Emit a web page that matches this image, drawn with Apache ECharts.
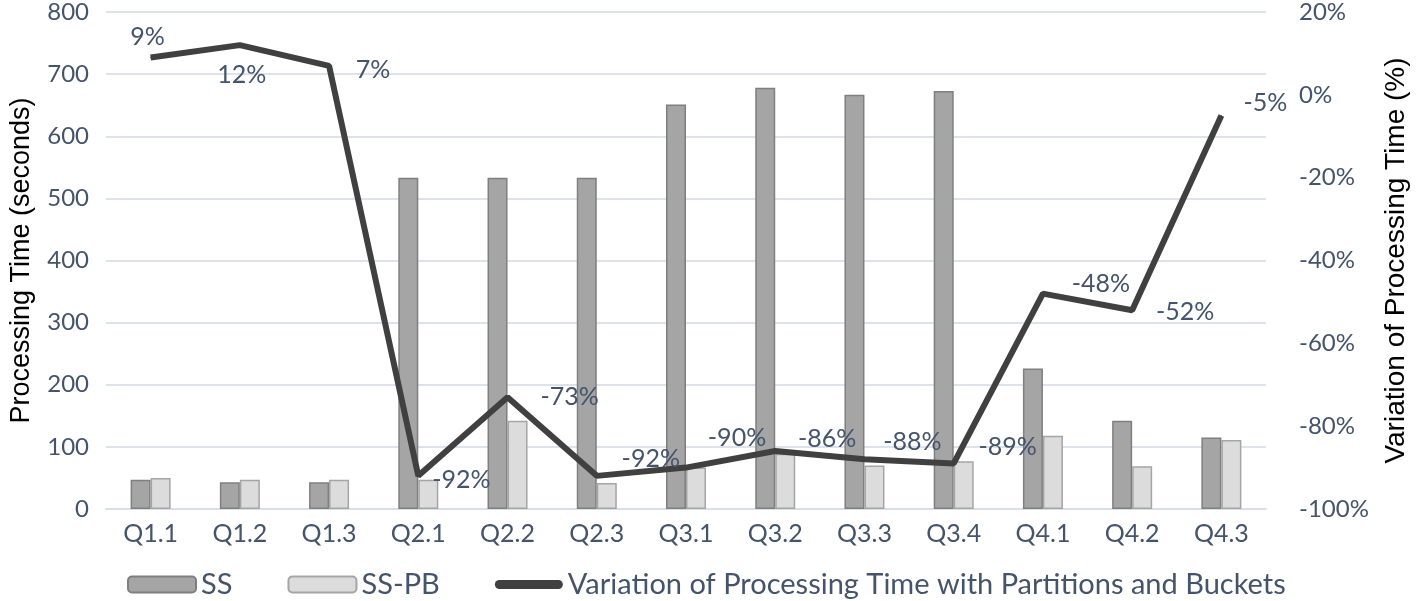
<!DOCTYPE html>
<html>
<head>
<meta charset="utf-8">
<script src="https://cdn.jsdelivr.net/npm/echarts@6/dist/echarts.min.js"></script>
<style>
html,body{margin:0;padding:0;background:#fff;}
#chart{width:1418px;height:601px;}
</style>
</head>
<body>
<div id="chart"></div>
<script>
const categories = ['Q1.1','Q1.2','Q1.3','Q2.1','Q2.2','Q2.3','Q3.1','Q3.2','Q3.3','Q3.4','Q4.1','Q4.2','Q4.3'];
const ssValues = [47, 43, 43, 533, 533, 533, 651, 678, 667, 673, 226, 142, 115];
const sspbValues = [50, 47, 47, 47, 142, 42, 67, 89, 70, 77, 118, 69, 111];
const variationValues = [9, 12, 7, -92, -73, -92, -90, -86, -88, -89, -48, -52, -5];
const leftTicks = [0, 800, 100];
const rightTicks = [-100, 20, 20];

// label offsets (pixels) for the variation labels
const labelOffsets = [[-3,-21],[2,30],[44,4],[43,4],[62,0],[54,-17],[51,-30],[52,-12],[48,-17],[54,-17],[58,-10],[53,2],[44,-13]];

const txt = '#44546a';
const font = 'Lato, "Open Sans", sans-serif';
const titleFont = '"Liberation Sans", Arial, sans-serif';
const lineName = 'Variation of Processing Time with Partitions and Buckets';
const chart = echarts.init(document.getElementById('chart'), null, {renderer:'canvas'});
chart.setOption({
  animation: false,
  backgroundColor: '#fff',
  grid: {left: 105, right: 151, top: 12, bottom: 92},
  legend: {
    left: 122, top: 565, itemWidth: 68, itemHeight: 16, itemGap: 55,
    textStyle: {fontFamily: font, fontSize: 29, color: txt},
    data: ['SS', 'SS-PB', {name: lineName, icon: 'path://M5,0 L71,0 A5,5 0 0 1 71,10 L5,10 A5,5 0 0 1 5,0 Z'}]
  },
  xAxis: {
    type: 'category', data: categories,
    axisLine: {show: true, lineStyle: {color: '#d9dfe8', width: 2}},
    axisTick: {show: false},
    axisLabel: {fontFamily: font, fontSize: 25, color: txt, margin: 12}
  },
  yAxis: [{
    type: 'value', min: leftTicks[0], max: leftTicks[1], interval: leftTicks[2],
    name: 'Processing Time (seconds)', nameLocation: 'middle', nameGap: 71,
    nameTextStyle: {fontFamily: titleFont, fontSize: 27, color: '#000'},
    axisLabel: {fontFamily: font, fontSize: 24, color: txt, margin: 17},
    splitLine: {lineStyle: {color: '#dde3ec', width: 2}},
    axisLine: {show: false}, axisTick: {show: false}
  }, {
    type: 'value', min: rightTicks[0], max: rightTicks[1], interval: rightTicks[2],
    name: 'Variation of Processing Time (%)', nameLocation: 'middle', nameGap: 116,
    nameRotate: 90,
    nameTextStyle: {fontFamily: titleFont, fontSize: 28, color: '#000'},
    axisLabel: {fontFamily: font, fontSize: 24, color: txt, margin: 33, formatter: '{value}%'},
    splitLine: {show: false}, axisLine: {show: false}, axisTick: {show: false}
  }],
  series: [{
    name: 'SS', type: 'bar', data: ssValues, barWidth: 20, barGap: '0%',
    itemStyle: {color: '#a5a5a5', borderColor: '#7f7f7f', borderWidth: 1.5}
  }, {
    name: 'SS-PB', type: 'bar', data: sspbValues, barWidth: 20,
    itemStyle: {color: '#dcdcdc', borderColor: '#a5a5a5', borderWidth: 1.5}
  }, {
    name: lineName, type: 'line', yAxisIndex: 1,
    data: variationValues.map((v, i) => ({value: v, label: {offset: labelOffsets[i]}})),
    symbol: 'circle', symbolSize: 1, showSymbol: true,
    lineStyle: {color: '#404040', width: 6},
    itemStyle: {color: '#404040'},
    label: {show: true, position: 'inside', formatter: '{c}%', fontFamily: font, fontSize: 25, color: txt},
    z: 5
  }]
});
</script>
</body>
</html>
